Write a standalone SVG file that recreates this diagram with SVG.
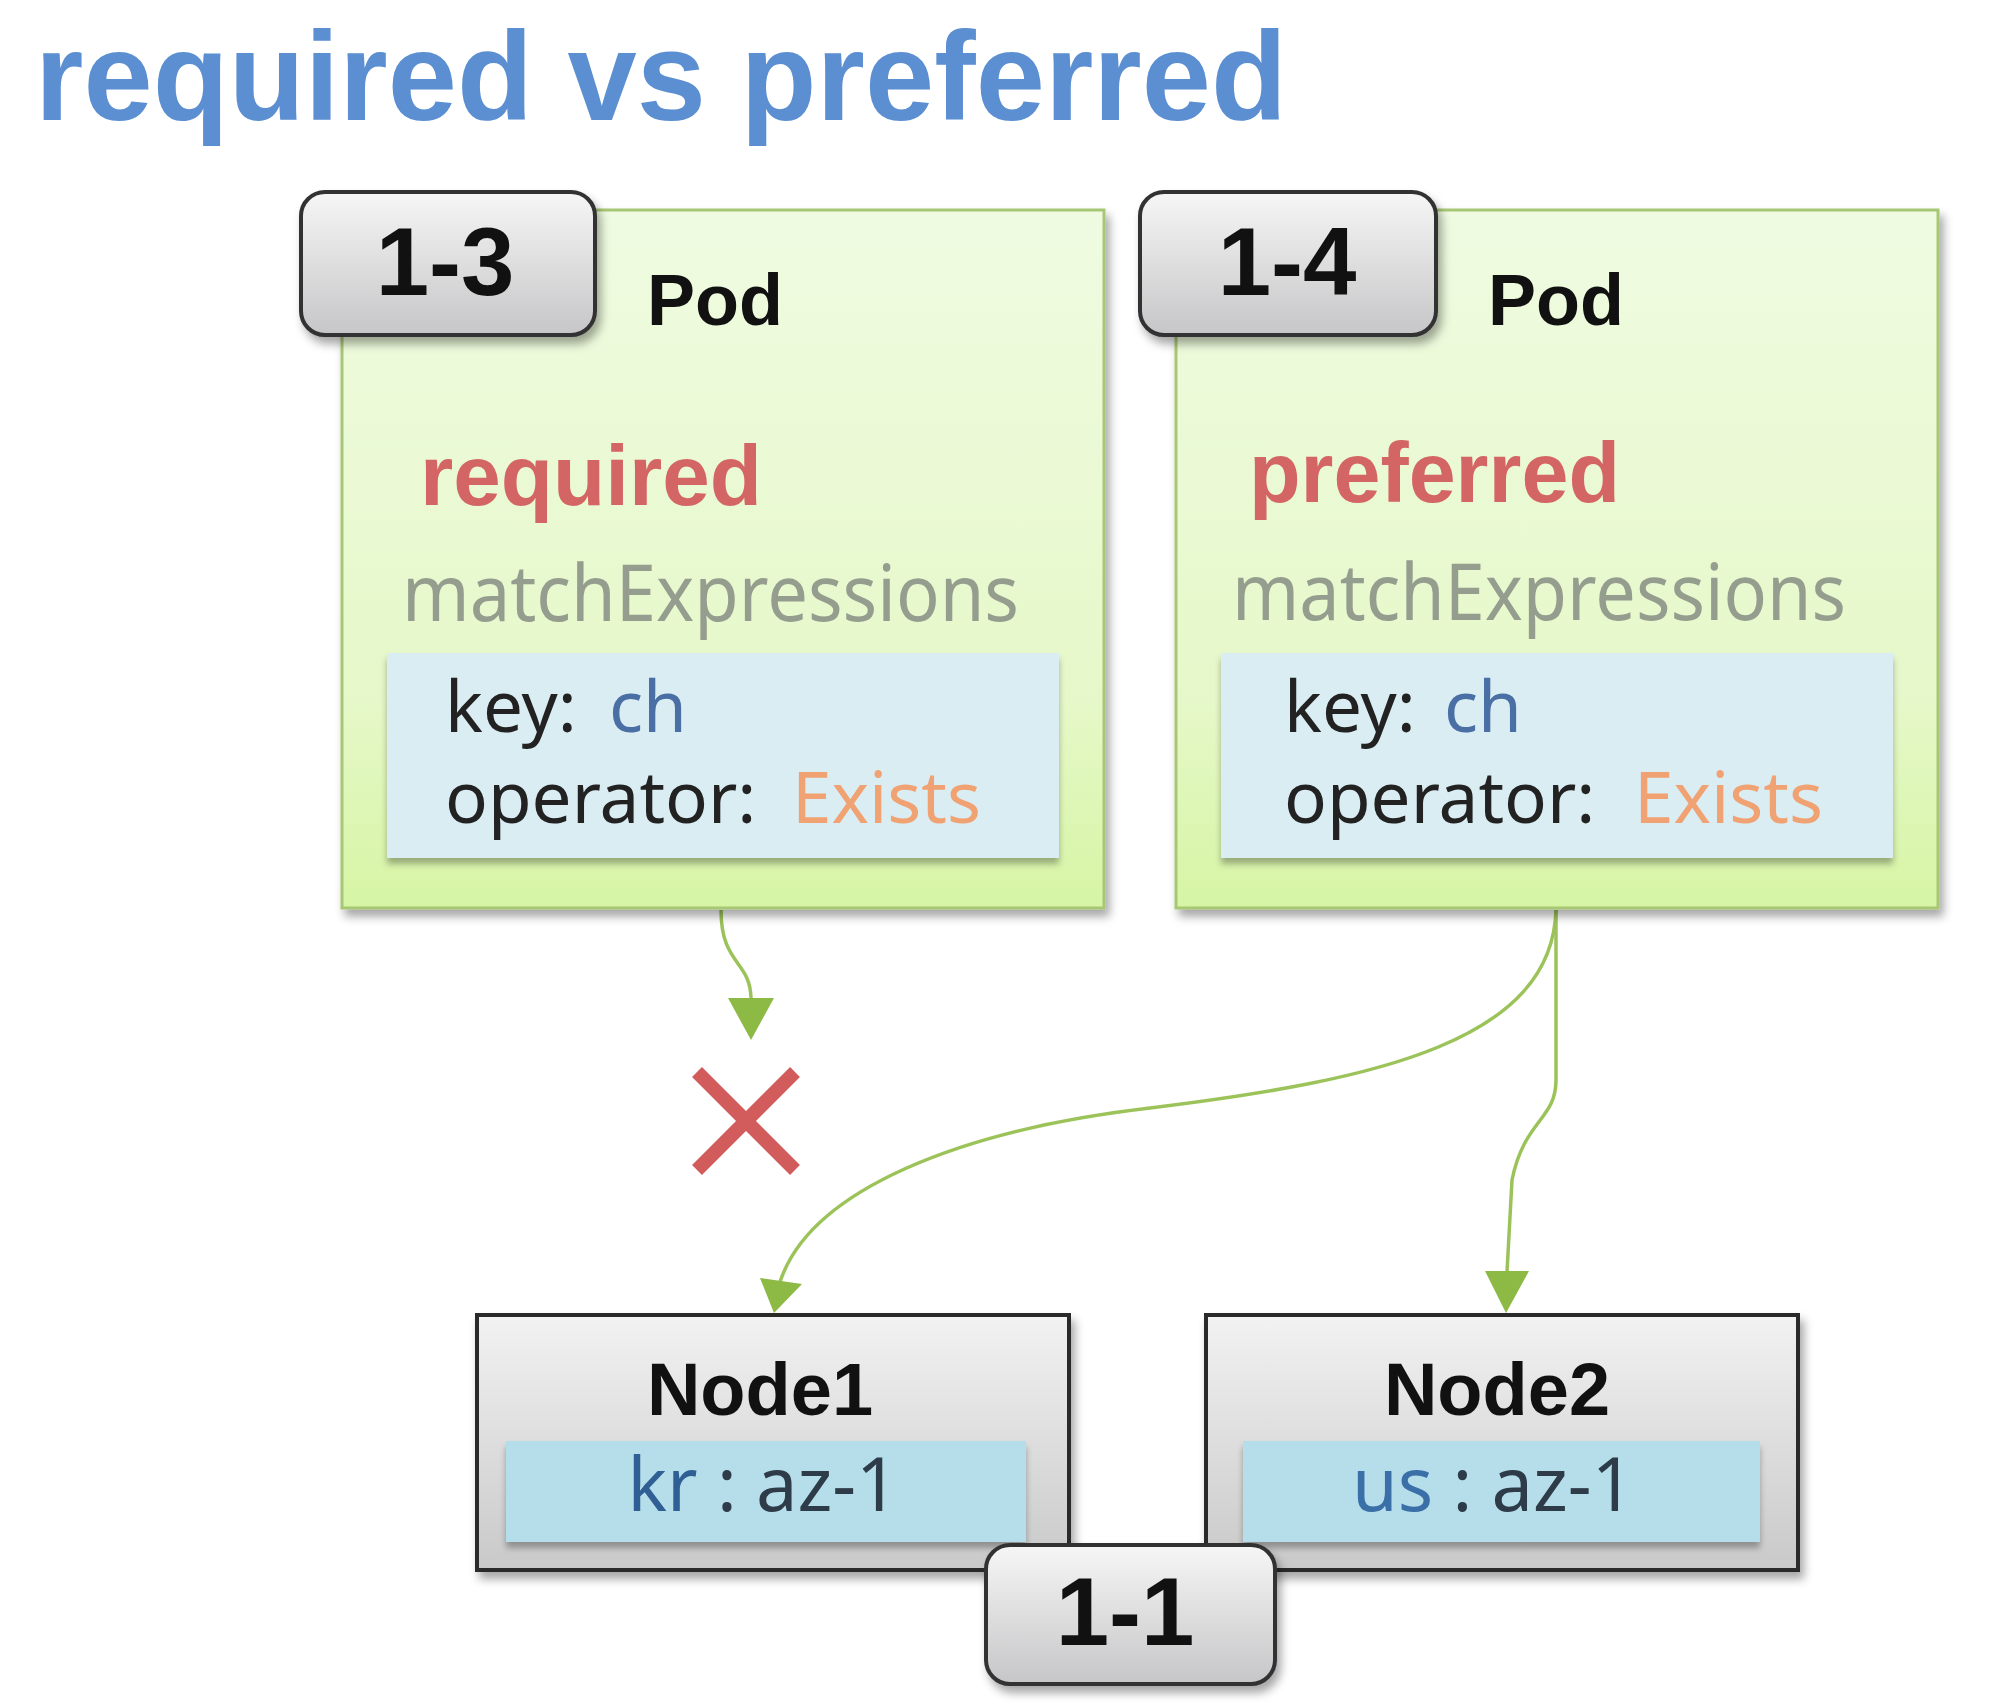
<svg xmlns="http://www.w3.org/2000/svg" width="2000" height="1708" viewBox="0 0 2000 1708">
<style>
.t{font-family:"Liberation Sans",Arial,sans-serif}
.lt{font-family:"Noto Sans","Liberation Sans",sans-serif}
.badge{fill:url(#gBadge);stroke:#333;stroke-width:4}
.pod{fill:url(#gPod);stroke:#A8C774;stroke-width:3}
.inner{fill:#DAEDF3}
.node{fill:url(#gNode);stroke:#2b2b2b;stroke-width:4}
.lab{fill:#B5DEEA}
.conn{fill:none;stroke:#9CC35A;stroke-width:3.5}
</style>
<defs>
<linearGradient id="gBadge" x1="0" y1="0" x2="0" y2="1"><stop offset="0" stop-color="#F6F6F6"/><stop offset="1" stop-color="#C6C6C8"/></linearGradient>
<linearGradient id="gPod" x1="0" y1="0" x2="0" y2="1"><stop offset="0" stop-color="#EFFBE1"/><stop offset="0.7" stop-color="#E6F8C9"/><stop offset="1" stop-color="#D6F5A4"/></linearGradient>
<linearGradient id="gNode" x1="0" y1="0" x2="0" y2="1"><stop offset="0" stop-color="#F2F2F2"/><stop offset="1" stop-color="#C9C9C9"/></linearGradient>
<filter id="sh" x="-10%" y="-10%" width="125%" height="130%"><feDropShadow dx="4" dy="7" stdDeviation="5" flood-color="#000" flood-opacity="0.35"/></filter>
<filter id="sh2" x="-10%" y="-10%" width="125%" height="140%"><feDropShadow dx="0" dy="6" stdDeviation="3" flood-color="#000" flood-opacity="0.3"/></filter>
</defs>
<rect width="2000" height="1708" fill="#fff"/>
<text class="t" x="35" y="120" font-size="126" font-weight="bold" fill="#5B8FD2" textLength="1252" lengthAdjust="spacingAndGlyphs">required vs preferred</text>

<g id="connectors">
<path class="conn" d="M721,910 C721,965 750,960 751,998"/>
<path d="M728,998 L774,998 L751,1040 Z" fill="#8DBA45"/>
<path class="conn" d="M1556,910 C1552,1040 1380,1080 1150,1108 C960,1130 810,1190 780,1282"/>
<path d="M760,1278 L802,1284 L774,1313 Z" fill="#8DBA45"/>
<path class="conn" d="M1556,910 L1556,1080 C1556,1120 1524,1120 1512,1180 L1507,1272"/>
<path d="M1485,1271 L1529,1271 L1506,1313 Z" fill="#8DBA45"/>
</g>

<g id="pod13">
<rect class="pod" x="342" y="210" width="762" height="698" filter="url(#sh)"/>
<text class="t" x="647" y="325" font-size="72" font-weight="bold" fill="#111">Pod</text>
<text class="t" x="420" y="505" font-size="86" font-weight="bold" fill="#D46565" textLength="342" lengthAdjust="spacingAndGlyphs">required</text>
<text class="lt" x="402" y="621" font-size="78" fill="#959E8E" textLength="617" lengthAdjust="spacingAndGlyphs">matchExpressions</text>
<rect class="inner" x="387" y="653" width="672" height="205" filter="url(#sh2)"/>
<text class="lt" x="445" y="732" font-size="71" fill="#222">key:<tspan x="609" fill="#4A6FA5">ch</tspan></text>
<text class="lt" x="445" y="823" font-size="71" fill="#222">operator:<tspan x="792" fill="#F0A273">Exists</tspan></text>
</g>
<g id="badge13">
<rect class="badge" x="301" y="192" width="294" height="143" rx="24" filter="url(#sh)"/>
<text class="t" x="445" y="295" font-size="96" font-weight="bold" fill="#111" text-anchor="middle">1-3</text>
</g>

<g id="pod14">
<rect class="pod" x="1176" y="210" width="762" height="698" filter="url(#sh)"/>
<text class="t" x="1488" y="325" font-size="72" font-weight="bold" fill="#111">Pod</text>
<text class="t" x="1249" y="502" font-size="86" font-weight="bold" fill="#D46565" textLength="371" lengthAdjust="spacingAndGlyphs">preferred</text>
<text class="lt" x="1232" y="620" font-size="78" fill="#959E8E" textLength="614" lengthAdjust="spacingAndGlyphs">matchExpressions</text>
<rect class="inner" x="1221" y="653" width="672" height="205" filter="url(#sh2)"/>
<text class="lt" x="1284" y="732" font-size="71" fill="#222">key:<tspan x="1444" fill="#4A6FA5">ch</tspan></text>
<text class="lt" x="1284" y="823" font-size="71" fill="#222">operator:<tspan x="1634" fill="#F0A273">Exists</tspan></text>
</g>
<g id="badge14">
<rect class="badge" x="1140" y="192" width="296" height="143" rx="24" filter="url(#sh)"/>
<text class="t" x="1287" y="295" font-size="96" font-weight="bold" fill="#111" text-anchor="middle">1-4</text>
</g>

<g id="cross">
<path d="M697,1072 L795,1170 M795,1072 L697,1170" stroke="#D25B5B" stroke-width="14" fill="none"/>
</g>

<g id="node1">
<rect class="node" x="477" y="1315" width="592" height="255" filter="url(#sh)"/>
<text class="t" x="760" y="1415" font-size="74" font-weight="bold" fill="#111" text-anchor="middle">Node1</text>
<rect class="lab" x="506" y="1441" width="520" height="101" filter="url(#sh2)"/>
<text class="lt" x="763" y="1511" font-size="74" fill="#2E3B48" text-anchor="middle"><tspan fill="#2F5F94">kr</tspan> : az-1</text>
</g>

<g id="node2">
<rect class="node" x="1206" y="1315" width="592" height="255" filter="url(#sh)"/>
<text class="t" x="1497" y="1415" font-size="74" font-weight="bold" fill="#111" text-anchor="middle">Node2</text>
<rect class="lab" x="1243" y="1441" width="517" height="101" filter="url(#sh2)"/>
<text class="lt" x="1493" y="1511" font-size="74" fill="#2E3B48" text-anchor="middle"><tspan fill="#3A6FA8">us</tspan> : az-1</text>
</g>

<g id="badge11">
<rect class="badge" x="986" y="1545" width="289" height="139" rx="24" filter="url(#sh)"/>
<text class="t" x="1125" y="1645" font-size="96" font-weight="bold" fill="#111" text-anchor="middle">1-1</text>
</g>
</svg>
